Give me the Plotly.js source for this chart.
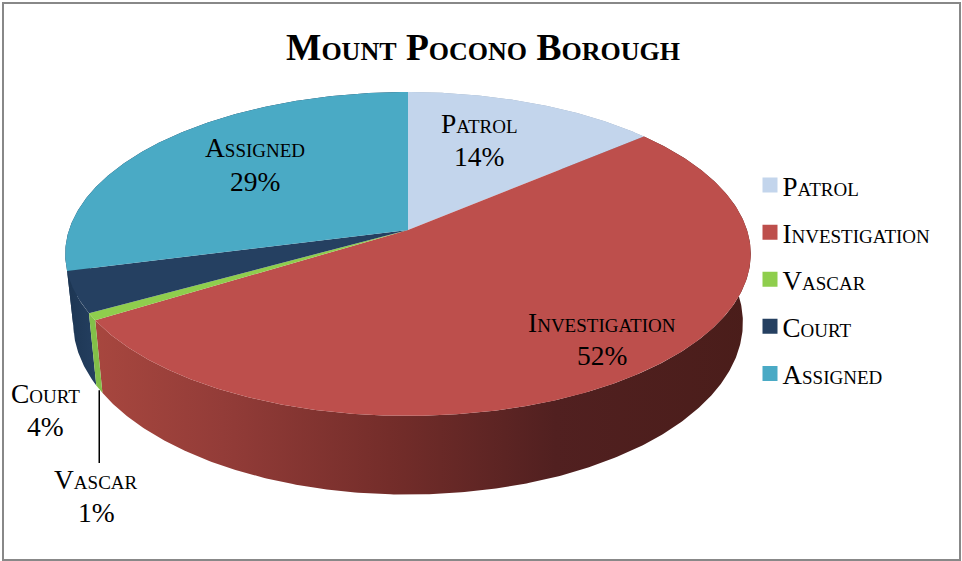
<!DOCTYPE html>
<html><head><meta charset="utf-8">
<script src="https://cdn.plot.ly/plotly-3.0.1.min.js"></script>
<style>html,body{margin:0;padding:0;background:#fff}#c{width:962px;height:561px}</style>
</head><body><div id="c"></div>
<script>
const titleText = "Mount Pocono Borough";
const categories = ["Patrol","Investigation","Vascar","Court","Assigned"];
const values = [13.8, 52.4, 0.7, 4.1, 29.0];
const percentLabels = ["14%","52%","1%","4%","29%"];
const topColors = ["#c3d5ec","#bd4f4c","#8fce4d","#254061","#4aaac5"];
const sideColors = ["#9aaabd","#8f3b38","#82bf48","#1d3350","#1c3552"];
const labelX = [479,602,96,45,255];
const labelY = [123,322,479,393,147];
const percentY = [156,355,512,426,181];

const cx=408, cy=230, a=339, b=158.4, p=0.148, depth=67, lowerScale=0.977;
function pt(t,lower){
  const u=Math.sin(t), v=Math.cos(t), w=1+p*v;
  return [cx+a*u/w*(lower?lowerScale:1), cy-b*v/w+(lower?depth/w:0)];
}
const total=values.reduce((s,v)=>s+v,0);
let cum=0;
const ranges=values.map(v=>{const r=[cum/total*2*Math.PI,(cum+v)/total*2*Math.PI];cum+=v;return r;});
function arc(r,lower,rev){
  const n=Math.max(4,Math.ceil((r[1]-r[0])*120)), o=[];
  for(let i=0;i<=n;i++){const k=rev?n-i:i;o.push(pt(r[0]+(r[1]-r[0])*k/n,lower));}
  return o;
}
const traces=[];
const axisBase={xaxis:'x',yaxis:'y',mode:'lines',line:{width:0},fill:'toself',hoverinfo:'skip',showlegend:false};
[4,0,1,3,2].forEach(i=>{
  const pts=arc(ranges[i],false,false).concat(arc(ranges[i],true,true));
  const tr=Object.assign({},axisBase,{x:pts.map(q=>q[0]),y:pts.map(q=>q[1]),fillcolor:sideColors[i]});
  if(i===1){
    tr.fillgradient={type:'horizontal',start:90,stop:755,
      colorscale:[[0,'#a8473f'],[0.2,'#933c38'],[0.45,'#742d2a'],[0.7,'#512020'],[1,'#4a1d1a']]};
  }
  if(i===3){
    tr.fillgradient={type:'horizontal',start:65,stop:100,colorscale:[[0,'#1c3552'],[1,'#254061']]};
  }
  traces.push(tr);
});
categories.forEach((c,i)=>{
  const pts=[[cx,cy]].concat(arc(ranges[i],false,false));
  pts.push([cx,cy]);
  traces.push(Object.assign({},axisBase,{x:pts.map(q=>q[0]),y:pts.map(q=>q[1]),fillcolor:topColors[i]}));
});
categories.forEach((c,i)=>{
  traces.push({x:[null],y:[null],type:'scatter',mode:'markers',name:c,legendgroup:c,
    marker:{symbol:'square',size:15,color:topColors[i]},hoverinfo:'skip'});
});
const vEnd=pt(ranges[2][0]+(ranges[2][1]-ranges[2][0])/2,true);
traces.push({x:[vEnd[0],vEnd[0]],y:[vEnd[1]+1,463],mode:'lines',line:{color:'#000',width:1.5},hoverinfo:'skip',showlegend:false});

const serif="'Liberation Serif','Times New Roman',serif";
const labelFont={family:serif,size:27.5,color:'#000',variant:'small-caps'};
const annotations=[];
categories.forEach((c,i)=>{
  annotations.push({x:labelX[i],y:labelY[i],xref:'x',yref:'y',text:c,showarrow:false,
    xanchor:'center',yanchor:'middle',font:labelFont});
  annotations.push({x:labelX[i],y:percentY[i],xref:'x',yref:'y',text:percentLabels[i],showarrow:false,
    xanchor:'center',yanchor:'middle',font:labelFont});
});
annotations.push({x:483,y:47,xref:'x',yref:'y',text:"<b>"+titleText+"</b>",showarrow:false,
  xanchor:'center',yanchor:'middle',font:{family:serif,size:37.5,color:'#000',variant:'small-caps'}});

Plotly.newPlot('c',traces,{
  width:962,height:561,margin:{l:0,r:0,t:0,b:0},
  paper_bgcolor:'#fff',plot_bgcolor:'#fff',
  xaxis:{range:[0,962],visible:false,fixedrange:true},
  yaxis:{range:[561,0],visible:false,fixedrange:true},
  annotations,
  shapes:[{type:'rect',xref:'x',yref:'y',x0:3,y0:3,x1:960,y1:560,line:{color:'#888',width:2},layer:'below'}],
  legend:{x:742.5/962,y:1-161/561,xanchor:'left',yanchor:'top',tracegroupgap:9,itemwidth:30,
    bgcolor:'rgba(0,0,0,0)',font:{family:serif,size:27,color:'#000',variant:'small-caps'}},
  hovermode:false
},{displayModeBar:false,staticPlot:true}).then(gd=>{
  gd.querySelectorAll('.legend .legendpoints').forEach(el=>{
    el.setAttribute('transform','translate(7.5,0)');
  });
});
</script></body></html>
